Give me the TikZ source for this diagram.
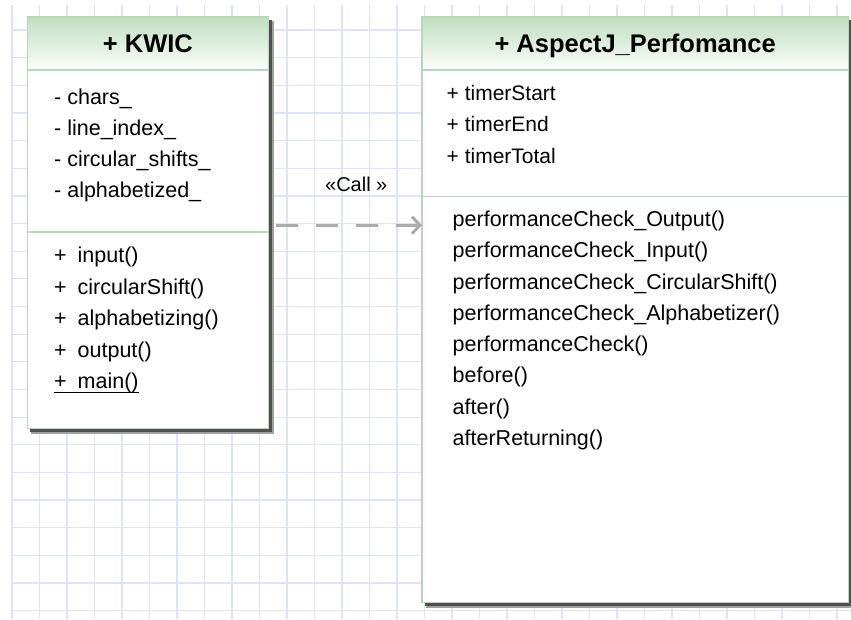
\documentclass[tikz,border=0pt]{standalone}
\usepackage{fontspec}
\setmainfont{Liberation Sans}
\usetikzlibrary{arrows.meta,calc}

\definecolor{gridblue}{RGB}{222,228,248}
\definecolor{boxgreen}{RGB}{184,214,184}
\definecolor{hdrgreen}{RGB}{192,222,192}
\definecolor{shadowdark}{RGB}{80,80,80}
\definecolor{shadowlight}{RGB}{160,160,160}
\definecolor{callgray}{RGB}{172,172,172}

\tikzset{
  gridline/.style={draw=gridblue, line width=1.2pt},
  classbox/.style={rectangle, fill=white, anchor=north west, inner sep=0pt},
  boxborder/.style={draw=boxgreen, line width=1.5pt},
  divider/.style={draw=boxgreen, line width=1.5pt},
  classtitle/.style={anchor=base, inner sep=0pt, font=\fontsize{25.5}{30}\selectfont\bfseries},
  member/.style={anchor=base west, inner sep=0pt, font=\fontsize{21.5}{26}\selectfont},
  smallmember/.style={member, font=\fontsize{21}{26}\selectfont},
  callline/.style={draw=callgray, line width=3pt, dash pattern=on 22pt off 18pt,
    -{Straight Barb[length=8pt,width=17pt]}},
  calllabel/.style={anchor=base, inner sep=0pt, font=\fontsize{20}{24}\selectfont},
}

\begin{document}
\begin{tikzpicture}[x=1pt,y=-1pt]
  \useasboundingbox (0,0) rectangle (851,619);
  \fill[white] (0,0) rectangle (851,619);

  % background grid
  \foreach \i in {0,...,30}
    \draw[gridline] ({12+27.5*\i},5) -- ({12+27.5*\i},619);
  \foreach \j in {0,...,21}
    \draw[gridline] (12,{30+27.65*\j}) -- (851,{30+27.65*\j});

  % drop shadows
  \fill[shadowlight] (31,21) rectangle (273.5,433.5);
  \fill[shadowdark]  (30,20) rectangle (271.5,431.5);
  \fill[shadowlight] (426,21) rectangle (851,607.5);
  \fill[shadowdark]  (425,20) rectangle (850.5,605.5);

  % class boxes
  \node[classbox, minimum width=240.5pt, minimum height=411pt] (kwic) at (27.5,17) {};
  \node[classbox, minimum width=426pt, minimum height=585pt] (perf) at (422,17) {};

  % header shading
  \shade[top color=hdrgreen, bottom color=white!96!hdrgreen]
    (kwic.north west) rectangle ($(kwic.north east)+(0,53)$);
  \shade[top color=hdrgreen, bottom color=white!96!hdrgreen]
    (perf.north west) rectangle ($(perf.north east)+(0,53)$);

  % compartment dividers
  \draw[divider] ($(kwic.north west)+(0,53)$) -- ($(kwic.north east)+(0,53)$);
  \draw[divider] ($(kwic.north west)+(0,215)$) -- ($(kwic.north east)+(0,215)$);
  \draw[divider] ($(perf.north west)+(0,53)$) -- ($(perf.north east)+(0,53)$);
  \draw[divider] ($(perf.north west)+(0,179.5)$) -- ($(perf.north east)+(0,179.5)$);

  % borders
  \draw[boxborder] (kwic.north west) rectangle (kwic.south east);
  \draw[boxborder] (perf.north west) rectangle (perf.south east);

  % titles
  \node[classtitle] (kwictitle) at ($(kwic.north)+(0,35.5)$) {+ KWIC};
  \node[classtitle] (perftitle) at ($(perf.north)+(0,35.5)$) {+ AspectJ\_Perfomance};

  % KWIC attributes
  \node[member] (ka1) at (54,104) {- chars\_};
  \node[member] (ka2) at (54,135) {- line\_index\_};
  \node[member] (ka3) at (54,166) {- circular\_shifts\_};
  \node[member] (ka4) at (54,197) {- alphabetized\_};

  % KWIC operations
  \node[member] (km1) at (54,262.5) {\makebox[23.5pt][l]{+}input()};
  \node[member] (km2) at (54,294)   {\makebox[23.5pt][l]{+}circularShift()};
  \node[member] (km3) at (54,325.5) {\makebox[23.5pt][l]{+}alphabetizing()};
  \node[member] (km4) at (54,357)   {\makebox[23.5pt][l]{+}output()};
  \node[member] (km5) at (54,388.5) {\makebox[23.5pt][l]{+}main()};
  \draw[line width=1.2pt] ([yshift=-3.8pt]km5.base west) -- ([yshift=-3.8pt]km5.base east);

  % AspectJ_Perfomance attributes
  \node[smallmember] (pa1) at (446.5,100)   {+ timerStart};
  \node[smallmember] (pa2) at (446.5,131.5) {+ timerEnd};
  \node[smallmember] (pa3) at (446.5,163)   {+ timerTotal};

  % AspectJ_Perfomance operations
  \node[member] (pm1) at (452.5,226.5)  {performanceCheck\_Output()};
  \node[member] (pm2) at (452.5,257.75) {performanceCheck\_Input()};
  \node[member] (pm3) at (452.5,289)    {performanceCheck\_CircularShift()};
  \node[member] (pm4) at (452.5,320.25) {performanceCheck\_Alphabetizer()};
  \node[member] (pm5) at (452.5,351.5)  {performanceCheck()};
  \node[member] (pm6) at (452.5,382.75) {before()};
  \node[member] (pm7) at (452.5,414)    {after()};
  \node[member] (pm8) at (452.5,445.25) {afterReturning()};

  % dependency
  \coordinate (callstart) at ([xshift=7.5pt,yshift=-2.5pt]kwic.east);
  \coordinate (callend) at (callstart -| perf.west);
  \draw[callline] (callstart) -- node[calllabel, pos=0.55, yshift=34pt] (calltext) {«Call »} (callend);
\end{tikzpicture}
\end{document}
